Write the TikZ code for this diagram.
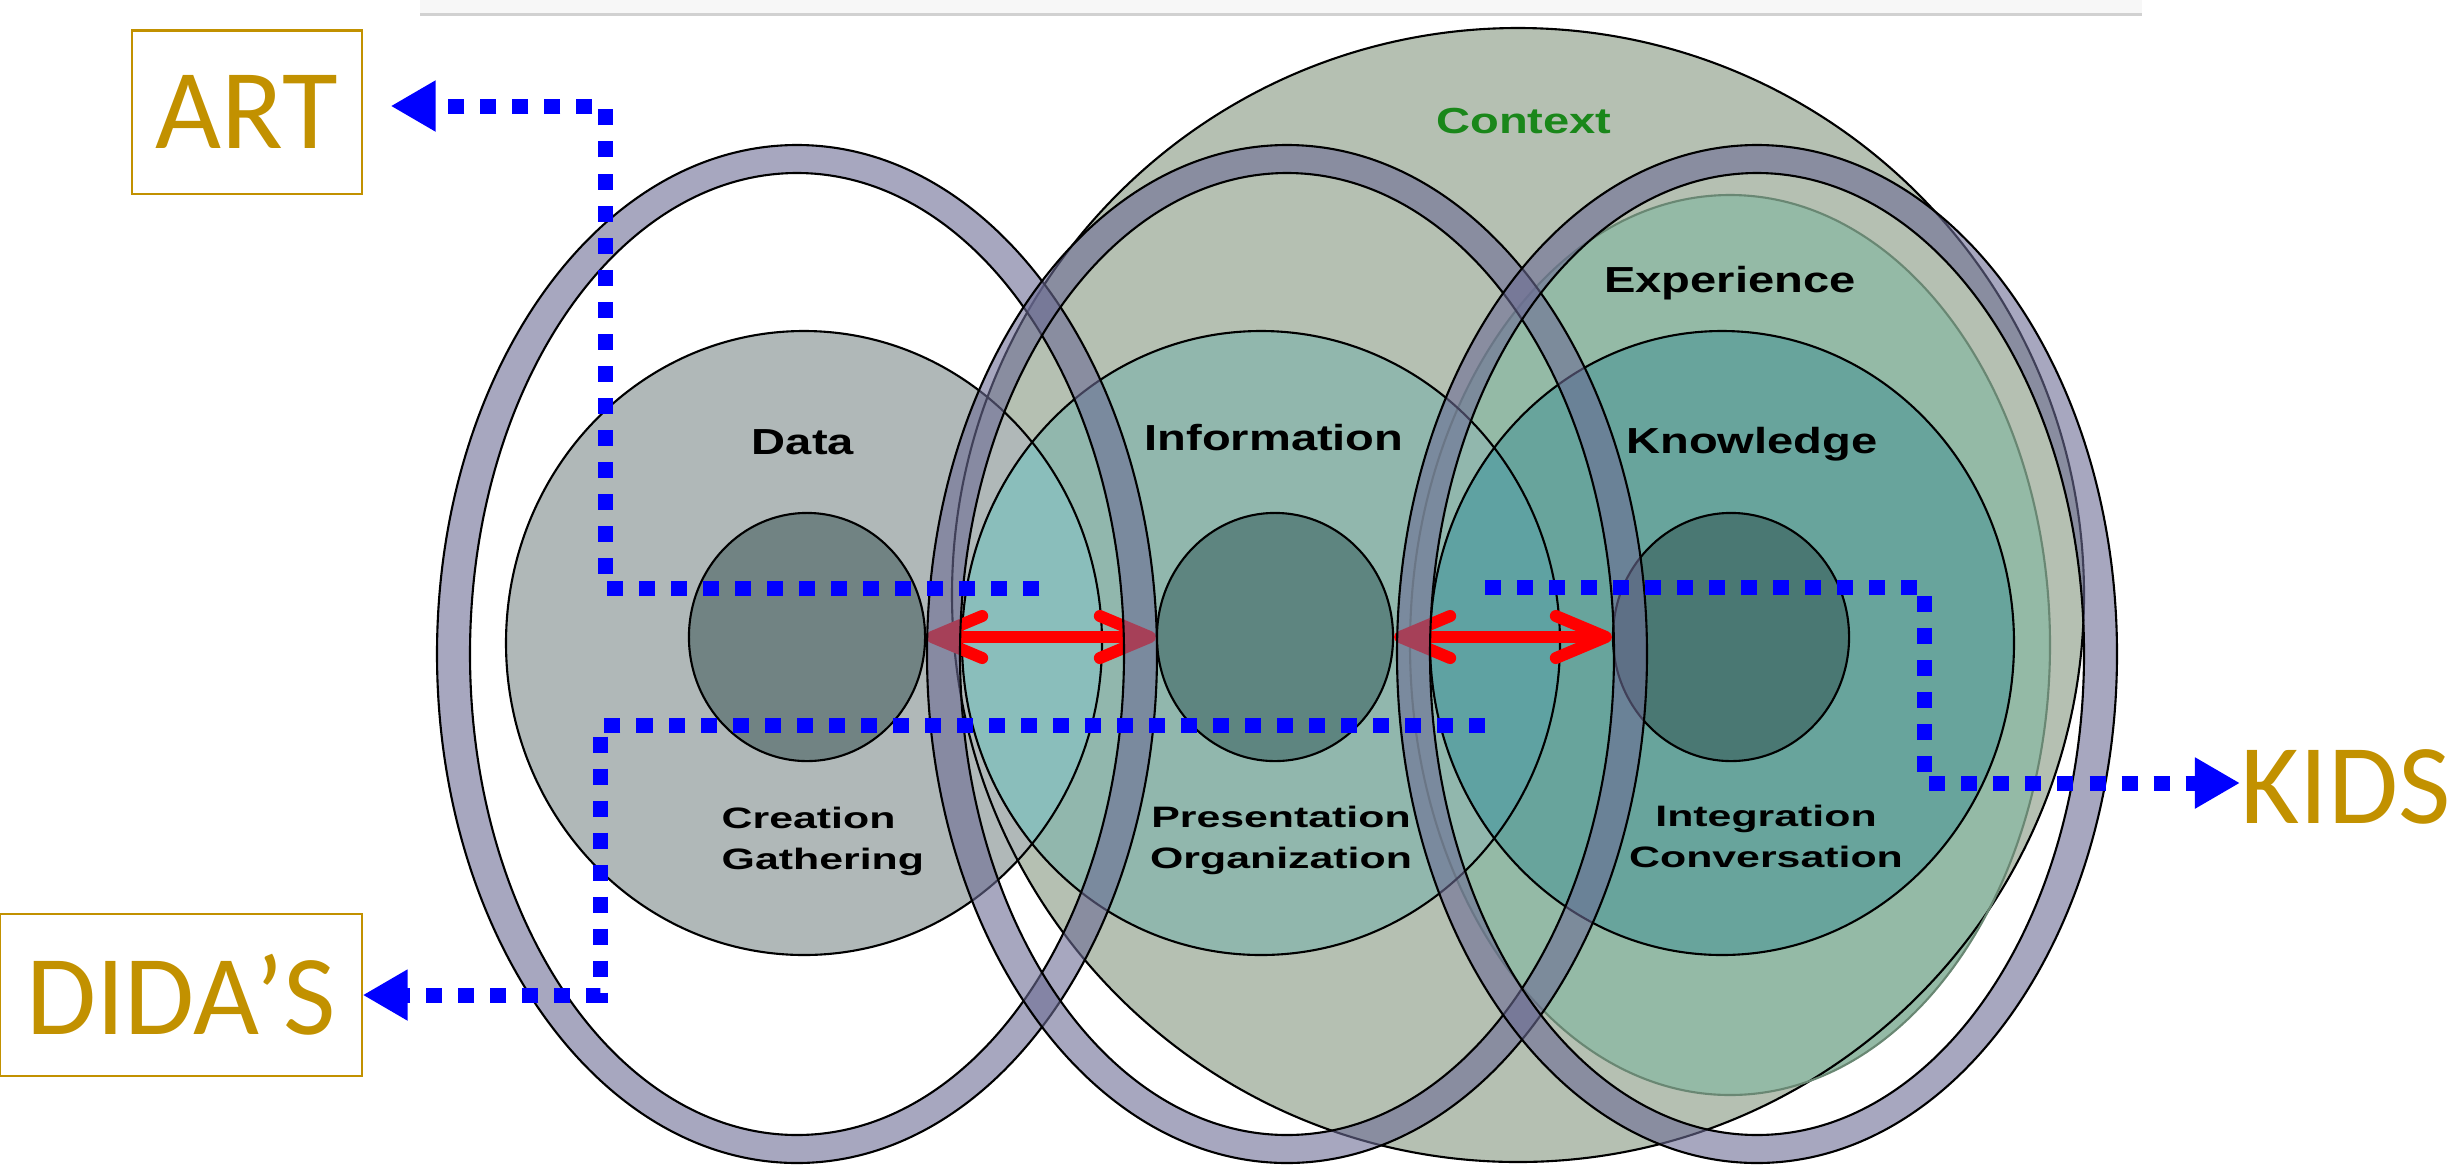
\documentclass[tikz,border=0pt]{standalone}
\usepackage{fontspec}
\usetikzlibrary{arrows.meta,shapes.geometric}
\newfontfamily\lblfont[FakeStretch=1.3]{Liberation Sans}
\newfontfamily\subfont[FakeStretch=1.45]{Liberation Sans}
\newfontfamily\bigfont{Carlito}
\definecolor{CtxFill}{RGB}{181,192,178}
\definecolor{ExpFill}{RGB}{148,186,166}
\definecolor{ExpEdge}{RGB}{105,135,115}
\definecolor{DataFill}{RGB}{176,184,184}
\definecolor{InfoFill}{RGB}{145,183,173}
\definecolor{KnowFill}{RGB}{104,164,156}
\definecolor{LensDI}{RGB}{138,190,187}
\definecolor{LensIK}{RGB}{95,162,162}
\definecolor{DataCore}{RGB}{113,131,131}
\definecolor{InfoCore}{RGB}{94,133,128}
\definecolor{KnowCore}{RGB}{74,120,115}
\definecolor{RingBlue}{RGB}{108,108,148}
\definecolor{CtxGreen}{RGB}{26,135,26}
\definecolor{Gold}{RGB}{194,145,0}
\definecolor{FlowBlue}{RGB}{0,0,255}

\begin{document}
\begin{tikzpicture}[x=0.01cm, y=-0.01cm,
  edge/.style={draw=black, line width=0.6pt},
  core/.style={ellipse, draw=black, line width=0.6pt, inner sep=0pt,
               minimum width=2.36cm, minimum height=2.48cm},
  ring/.style={fill=RingBlue, fill opacity=0.6, draw=black, line width=0.6pt, even odd rule},
  lbl/.style={font=\lblfont\bfseries\fontsize{10.3}{11.95}\selectfont, inner sep=0pt, anchor=base},
  sub/.style={font=\subfont\bfseries\fontsize{8.4}{11.4}\selectfont, inner sep=0pt, anchor=base},
  big/.style={font=\bigfont\fontsize{32.4}{36}\selectfont, text=Gold},
  tag/.style={big, draw=Gold, line width=0.6pt, inner sep=0pt},
  flow/.style={draw=FlowBlue, line width=0.15cm, dash pattern=on 0.16cm off 0.16cm,
               -{Triangle[length=0.45cm, width=0.48cm]}},
  link/.style={draw=red, line width=0.12cm, line cap=round,
               {Straight Barb[length=0.5cm, width=0.42cm, round]}-{Straight Barb[length=0.5cm, width=0.42cm, round]}}
]
  \useasboundingbox (0,0) rectangle (2460,1166);

  % header strip
  \fill[black!3] (420,0) rectangle (2142,13);
  \draw[black!18, line width=0.03cm] (420,14) -- (2142,14);

  % fills
  \fill[CtxFill] (1518,595) ellipse [x radius=566, y radius=567];
  \fill[ExpFill] (1730,645) ellipse [x radius=320, y radius=450];
  \fill[DataFill] (804,643) ellipse [x radius=298, y radius=312];
  \fill[InfoFill] (1261,643) ellipse [x radius=299, y radius=312];
  \fill[KnowFill] (1722,643) ellipse [x radius=292, y radius=312];
  \begin{scope}
    \clip (804,643) ellipse [x radius=298, y radius=312];
    \fill[LensDI] (1261,643) ellipse [x radius=299, y radius=312];
  \end{scope}
  \begin{scope}
    \clip (1722,643) ellipse [x radius=292, y radius=312];
    \fill[LensIK] (1261,643) ellipse [x radius=299, y radius=312];
  \end{scope}

  % outlines
  \draw[edge] (1518,595) ellipse [x radius=566, y radius=567];
  \draw[draw=ExpEdge, line width=0.6pt] (1730,645) ellipse [x radius=320, y radius=450];
  \draw[edge] (804,643) ellipse [x radius=298, y radius=312];
  \draw[edge] (1261,643) ellipse [x radius=299, y radius=312];
  \draw[edge] (1722,643) ellipse [x radius=292, y radius=312];

  % inner cores
  \node[core, fill=DataCore] (dataCore) at (807,637) {};
  \node[core, fill=InfoCore] (infoCore) at (1275,637) {};
  \node[core, fill=KnowCore] (knowCore) at (1731,637) {};

  % red links
  \draw[link] (dataCore.east) -- (infoCore.west);
  \draw[link] (infoCore.east) -- (knowCore.west);

  % rings
  \path[ring] (797,654) ellipse [x radius=360, y radius=509]
              (797,654) ellipse [x radius=327, y radius=481];
  \path[ring] (1287,654) ellipse [x radius=360, y radius=509]
              (1287,654) ellipse [x radius=327, y radius=481];
  \path[ring] (1757,654) ellipse [x radius=360, y radius=509]
              (1757,654) ellipse [x radius=327, y radius=481];

  % labels
  \node[lbl, text=CtxGreen] (lblContext) at (1524,133) {Context};
  \node[lbl] (lblExp) at (1730,292) {Experience};
  \node[lbl] (lblData) at (803,454) {Data};
  \node[lbl] (lblInfo) at (1274,450) {Information};
  \node[lbl] (lblKnow) at (1752,453) {Knowledge};
  \node[sub, align=left, anchor=base west] (lblCreate) at (721,869) {Creation\\Gathering};
  \node[sub, align=center] (lblPresent) at (1281,868) {Presentation\\Organization};
  \node[sub, align=center] (lblIntegr) at (1766,867) {Integration\\Conversation};

  % side tags
  \node[tag, minimum width=2.29cm, minimum height=1.63cm] (art) at (247,112) {ART};
  \node[tag, minimum width=3.61cm, minimum height=1.62cm] (didas) at (181,995) {DIDA’S};
  \node[big, inner sep=0pt, anchor=base west] (kids) at (2240,823) {KIDS};

  % dotted flows
  \coordinate (artFrom) at (1039,588);
  \coordinate (artTurn) at (605,106);
  \coordinate (didasFrom) at (1485,725);
  \coordinate (didasTurn) at (600,995);
  \coordinate (kidsFrom) at (1485,587);
  \coordinate (kidsTurn) at (1924,783);
  \draw[flow, shorten >=0.28cm] (artFrom) -| (artTurn) -- (art.east |- artTurn);
  \draw[flow] (didasFrom) -| (didasTurn) -- (didas.east |- didasTurn);
  \draw[flow] (kidsFrom) -| (kidsTurn) -- (kids.west |- kidsTurn);
\end{tikzpicture}
\end{document}
